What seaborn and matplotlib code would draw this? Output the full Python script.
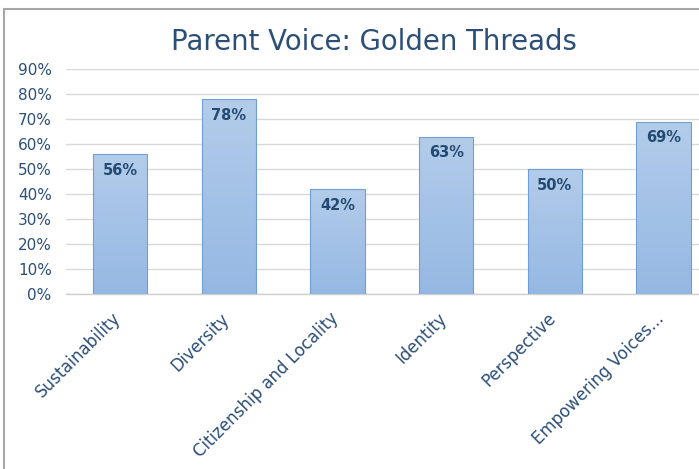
import numpy as np
import pandas as pd
import matplotlib
matplotlib.use("Agg")
import matplotlib.pyplot as plt
import matplotlib.transforms as mtransforms
import seaborn as sns
from matplotlib.patches import Rectangle
from matplotlib.colors import LinearSegmentedColormap

categories = ["Sustainability", "Diversity", "Citizenship and Locality",
              "Identity", "Perspective", "Empowering Voices..."]
values = [0.56, 0.78, 0.42, 0.63, 0.50, 0.69]
yticks = [0.0, 0.1, 0.2, 0.3, 0.4, 0.5, 0.6, 0.7, 0.8, 0.9]
title = "Parent Voice: Golden Threads"

df = pd.DataFrame({"category": categories, "value": values})

sns.set_theme(style="white")
plt.rcParams["font.family"] = ["DejaVu Sans"]

text_color = "#2c4f78"
fig = plt.figure(figsize=(6.99, 4.69), dpi=100)

# chart frame (clipped at right/bottom as in the reference)
fig.patches.append(Rectangle((4 / 699, -0.1), 1.2, (469 - 9) / 469 + 0.1,
                             transform=fig.transFigure, fill=False,
                             edgecolor="#a6a6a6", linewidth=1.5))

ax = fig.add_axes([65.6 / 699, 175 / 469, 652.4 / 699, 225 / 469])
sns.barplot(data=df, x="category", y="value", ax=ax, width=0.5,
            color="#9dbde6", edgecolor="#6f9fd6", linewidth=0.8, zorder=3)

cmap = LinearSegmentedColormap.from_list("g", ["#95b8e3", "#b3ccea"])
grad = np.linspace(0, 1, 256).reshape(-1, 1)
for p in ax.patches:
    x0, y0 = p.get_x(), p.get_y()
    w, h = p.get_width(), p.get_height()
    im = ax.imshow(grad, cmap=cmap, origin="lower", aspect="auto",
                   extent=[x0, x0 + w, y0, y0 + h], zorder=3.5)
    im.set_clip_path(p)
    p.set_facecolor("none")
    p.set_zorder(4)

for i, v in enumerate(values):
    ax.text(i, v - 0.065, f"{int(round(v * 100))}%", ha="center", va="center",
            fontsize=10.5, fontweight="bold", color="#234a72", zorder=5)

ax.set_xlim(-0.5, len(categories) - 0.5)
ax.set_ylim(0, 0.9)
ax.set_yticks(yticks)
ax.set_yticklabels([f"{int(round(t * 100))}%" for t in yticks],
                   fontsize=11, color=text_color)
ax.set_xticks(range(len(categories)))
ax.set_xticklabels(categories, rotation=45, ha="right", rotation_mode="anchor",
                   fontsize=12, color=text_color)
ax.tick_params(axis="x", length=0, pad=11)
ax.tick_params(axis="y", length=0, pad=10)
offset = mtransforms.ScaledTranslation(-6 / 72, 0, fig.dpi_scale_trans)
for lbl in ax.get_xticklabels():
    lbl.set_transform(lbl.get_transform() + offset)
ax.set_xlabel("")
ax.set_ylabel("")
ax.grid(axis="y", color="#d9d9d9", linewidth=1, zorder=0)
ax.set_axisbelow(True)
for s in ["top", "right", "left"]:
    ax.spines[s].set_visible(False)
ax.spines["bottom"].set_color("#d0d0d0")
ax.spines["bottom"].set_linewidth(1)
ax.spines["bottom"].set_zorder(2)

fig.text(374 / 699, 1 - 42 / 469, title, ha="center", va="center",
         fontsize=19.8, color=text_color)

fig.savefig("out.png", dpi=100)
